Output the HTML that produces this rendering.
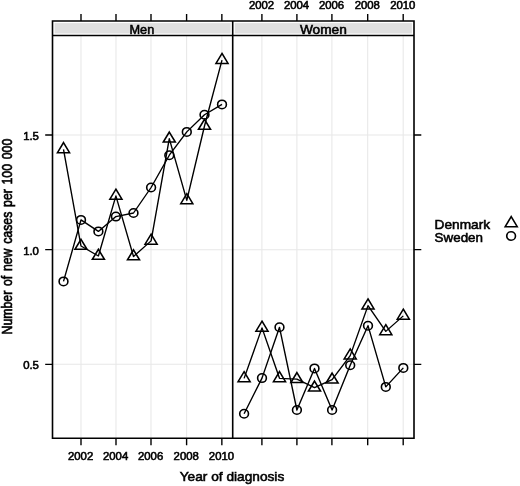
<!DOCTYPE html>
<html lang="en"><head><meta charset="utf-8"><title>Incidence by year of diagnosis</title>
<style>html,body{margin:0;padding:0;background:#fff;}body{width:520px;height:486px;overflow:hidden;}svg{display:block;}text{font-family:"Liberation Sans", Arial, sans-serif;fill:#000;stroke:#000;stroke-width:0.55px;}</style></head><body>
<svg width="520" height="486" viewBox="0 0 520 486">
<rect x="0" y="0" width="520" height="486" fill="#ffffff"/>
<g transform="scale(1.07,1)">
<rect x="51.03" y="23.10" width="164.49" height="10.40" fill="#dfdfdf"/>
<rect x="219.44" y="23.10" width="165.51" height="10.40" fill="#dfdfdf"/>
<path d="M75.70 35.50V438.20M244.77 35.50V438.20M108.41 35.50V438.20M277.48 35.50V438.20M141.12 35.50V438.20M310.19 35.50V438.20M174.39 35.50V438.20M343.64 35.50V438.20M207.34 35.50V438.20M376.82 35.50V438.20M49.07 135.00H386.92M49.07 249.70H386.92M49.07 364.30H386.92" stroke="#e8e8e8" stroke-width="1" fill="none"/>
<path d="M75.70 21.00V14.00M244.77 21.00V14.00M75.70 438.20V445.30M244.77 438.20V445.30M108.41 21.00V14.00M277.48 21.00V14.00M108.41 438.20V445.30M277.48 438.20V445.30M141.12 21.00V14.00M310.19 21.00V14.00M141.12 438.20V445.30M310.19 438.20V445.30M174.39 21.00V14.00M343.64 21.00V14.00M174.39 438.20V445.30M343.64 438.20V445.30M207.34 21.00V14.00M376.82 21.00V14.00M207.34 438.20V445.30M376.82 438.20V445.30M49.07 135.00H42.24M386.92 135.00H393.74M49.07 249.70H42.24M386.92 249.70H393.74M49.07 364.30H42.24M386.92 364.30H393.74" stroke="#000" stroke-width="1.30" fill="none"/>
<clipPath id="cm"><rect x="49.07" y="35.50" width="168.41" height="402.70"/></clipPath>
<clipPath id="cw"><rect x="217.48" y="35.50" width="169.44" height="402.70"/></clipPath>
<g clip-path="url(#cm)"><polyline points="59.35,149.30 75.70,246.00 91.96,256.00 108.32,195.90 124.77,256.50 141.21,240.90 158.22,138.70 174.58,200.40 191.12,126.00 207.48,60.10" fill="none" stroke="#000" stroke-width="1.30" stroke-linejoin="round"/><path d="M59.35 142.63L64.99 152.64L53.71 152.64Z" fill="none" stroke="#000" stroke-width="1.50" stroke-linejoin="miter"/><path d="M75.70 239.33L81.34 249.34L70.06 249.34Z" fill="none" stroke="#000" stroke-width="1.50" stroke-linejoin="miter"/><path d="M91.96 249.33L97.60 259.33L86.32 259.33Z" fill="none" stroke="#000" stroke-width="1.50" stroke-linejoin="miter"/><path d="M108.32 189.23L113.96 199.24L102.68 199.24Z" fill="none" stroke="#000" stroke-width="1.50" stroke-linejoin="miter"/><path d="M124.77 249.83L130.41 259.83L119.13 259.83Z" fill="none" stroke="#000" stroke-width="1.50" stroke-linejoin="miter"/><path d="M141.21 234.23L146.85 244.24L135.57 244.24Z" fill="none" stroke="#000" stroke-width="1.50" stroke-linejoin="miter"/><path d="M158.22 132.03L163.86 142.03L152.58 142.03Z" fill="none" stroke="#000" stroke-width="1.50" stroke-linejoin="miter"/><path d="M174.58 193.73L180.22 203.74L168.94 203.74Z" fill="none" stroke="#000" stroke-width="1.50" stroke-linejoin="miter"/><path d="M191.12 119.33L196.76 129.34L185.48 129.34Z" fill="none" stroke="#000" stroke-width="1.50" stroke-linejoin="miter"/><path d="M207.48 53.43L213.12 63.44L201.84 63.44Z" fill="none" stroke="#000" stroke-width="1.50" stroke-linejoin="miter"/><polyline points="59.35,281.40 75.70,219.90 91.96,231.40 108.32,216.60 124.77,213.00 141.21,187.50 158.22,155.20 174.58,131.90 191.12,114.70 207.48,104.40" fill="none" stroke="#000" stroke-width="1.30" stroke-linejoin="round"/><ellipse cx="59.35" cy="281.40" rx="4.10" ry="4.25" fill="none" stroke="#000" stroke-width="1.50"/><ellipse cx="75.70" cy="219.90" rx="4.10" ry="4.25" fill="none" stroke="#000" stroke-width="1.50"/><ellipse cx="91.96" cy="231.40" rx="4.10" ry="4.25" fill="none" stroke="#000" stroke-width="1.50"/><ellipse cx="108.32" cy="216.60" rx="4.10" ry="4.25" fill="none" stroke="#000" stroke-width="1.50"/><ellipse cx="124.77" cy="213.00" rx="4.10" ry="4.25" fill="none" stroke="#000" stroke-width="1.50"/><ellipse cx="141.21" cy="187.50" rx="4.10" ry="4.25" fill="none" stroke="#000" stroke-width="1.50"/><ellipse cx="158.22" cy="155.20" rx="4.10" ry="4.25" fill="none" stroke="#000" stroke-width="1.50"/><ellipse cx="174.58" cy="131.90" rx="4.10" ry="4.25" fill="none" stroke="#000" stroke-width="1.50"/><ellipse cx="191.12" cy="114.70" rx="4.10" ry="4.25" fill="none" stroke="#000" stroke-width="1.50"/><ellipse cx="207.48" cy="104.40" rx="4.10" ry="4.25" fill="none" stroke="#000" stroke-width="1.50"/></g>
<g clip-path="url(#cw)"><polyline points="228.13,378.40 244.86,327.90 261.21,378.30 277.48,379.20 293.93,387.70 310.37,379.70 327.29,355.60 343.93,305.60 360.56,331.40 376.92,315.90" fill="none" stroke="#000" stroke-width="1.30" stroke-linejoin="round"/><path d="M228.13 371.73L233.77 381.73L222.49 381.73Z" fill="none" stroke="#000" stroke-width="1.50" stroke-linejoin="miter"/><path d="M244.86 321.23L250.50 331.23L239.22 331.23Z" fill="none" stroke="#000" stroke-width="1.50" stroke-linejoin="miter"/><path d="M261.21 371.63L266.85 381.63L255.57 381.63Z" fill="none" stroke="#000" stroke-width="1.50" stroke-linejoin="miter"/><path d="M277.48 372.53L283.12 382.53L271.84 382.53Z" fill="none" stroke="#000" stroke-width="1.50" stroke-linejoin="miter"/><path d="M293.93 381.03L299.57 391.03L288.29 391.03Z" fill="none" stroke="#000" stroke-width="1.50" stroke-linejoin="miter"/><path d="M310.37 373.03L316.01 383.03L304.73 383.03Z" fill="none" stroke="#000" stroke-width="1.50" stroke-linejoin="miter"/><path d="M327.29 348.93L332.93 358.94L321.65 358.94Z" fill="none" stroke="#000" stroke-width="1.50" stroke-linejoin="miter"/><path d="M343.93 298.93L349.57 308.94L338.29 308.94Z" fill="none" stroke="#000" stroke-width="1.50" stroke-linejoin="miter"/><path d="M360.56 324.73L366.20 334.73L354.92 334.73Z" fill="none" stroke="#000" stroke-width="1.50" stroke-linejoin="miter"/><path d="M376.92 309.23L382.56 319.23L371.28 319.23Z" fill="none" stroke="#000" stroke-width="1.50" stroke-linejoin="miter"/><polyline points="228.13,413.70 244.86,378.10 261.21,327.30 277.48,410.00 293.93,368.40 310.37,410.00 327.29,365.20 343.93,325.70 360.56,386.90 376.92,367.90" fill="none" stroke="#000" stroke-width="1.30" stroke-linejoin="round"/><ellipse cx="228.13" cy="413.70" rx="4.10" ry="4.25" fill="none" stroke="#000" stroke-width="1.50"/><ellipse cx="244.86" cy="378.10" rx="4.10" ry="4.25" fill="none" stroke="#000" stroke-width="1.50"/><ellipse cx="261.21" cy="327.30" rx="4.10" ry="4.25" fill="none" stroke="#000" stroke-width="1.50"/><ellipse cx="277.48" cy="410.00" rx="4.10" ry="4.25" fill="none" stroke="#000" stroke-width="1.50"/><ellipse cx="293.93" cy="368.40" rx="4.10" ry="4.25" fill="none" stroke="#000" stroke-width="1.50"/><ellipse cx="310.37" cy="410.00" rx="4.10" ry="4.25" fill="none" stroke="#000" stroke-width="1.50"/><ellipse cx="327.29" cy="365.20" rx="4.10" ry="4.25" fill="none" stroke="#000" stroke-width="1.50"/><ellipse cx="343.93" cy="325.70" rx="4.10" ry="4.25" fill="none" stroke="#000" stroke-width="1.50"/><ellipse cx="360.56" cy="386.90" rx="4.10" ry="4.25" fill="none" stroke="#000" stroke-width="1.50"/><ellipse cx="376.92" cy="367.90" rx="4.10" ry="4.25" fill="none" stroke="#000" stroke-width="1.50"/></g>
<path d="M49.07 21.00H386.92V438.20H49.07ZM49.07 35.50H386.92M217.48 21.00V438.20" stroke="#000" stroke-width="1.50" fill="none" stroke-linejoin="miter"/>
<text x="132.62" y="33.70" font-size="12.80" text-anchor="middle" textLength="23.1" lengthAdjust="spacingAndGlyphs">Men</text>
<text x="302.20" y="33.70" font-size="12.80" text-anchor="middle">Women</text>
<text x="75.33" y="460.00" font-size="10.60" text-anchor="middle">2002</text>
<text x="244.39" y="8.60" font-size="10.60" text-anchor="middle">2002</text>
<text x="108.04" y="460.00" font-size="10.60" text-anchor="middle">2004</text>
<text x="277.10" y="8.60" font-size="10.60" text-anchor="middle">2004</text>
<text x="140.75" y="460.00" font-size="10.60" text-anchor="middle">2006</text>
<text x="309.81" y="8.60" font-size="10.60" text-anchor="middle">2006</text>
<text x="174.02" y="460.00" font-size="10.60" text-anchor="middle">2008</text>
<text x="343.27" y="8.60" font-size="10.60" text-anchor="middle">2008</text>
<text x="206.96" y="460.00" font-size="10.60" text-anchor="middle">2010</text>
<text x="376.45" y="8.60" font-size="10.60" text-anchor="middle">2010</text>
<text x="36.36" y="140.00" font-size="10.60" text-anchor="end">1.5</text>
<text x="36.36" y="254.70" font-size="10.60" text-anchor="end">1.0</text>
<text x="36.36" y="369.30" font-size="10.60" text-anchor="end">0.5</text>
<text x="216.82" y="481.40" font-size="12.80" text-anchor="middle">Year of diagnosis</text>
<text transform="translate(11.59,236.60) rotate(-90) scale(1,1.15)" font-size="12.30" word-spacing="1.3" text-anchor="middle">Number of new cases per 100 000</text>
<text x="406.17" y="228.80" font-size="12.80">Denmark</text>
<text x="406.17" y="241.70" font-size="12.80" textLength="45.2" lengthAdjust="spacingAndGlyphs">Sweden</text>
<path d="M477.76 216.63L483.40 226.64L472.12 226.64Z" fill="none" stroke="#000" stroke-width="1.50" stroke-linejoin="miter"/>
<ellipse cx="477.66" cy="236.00" rx="4.10" ry="4.25" fill="none" stroke="#000" stroke-width="1.50"/>
</g></svg></body></html>
